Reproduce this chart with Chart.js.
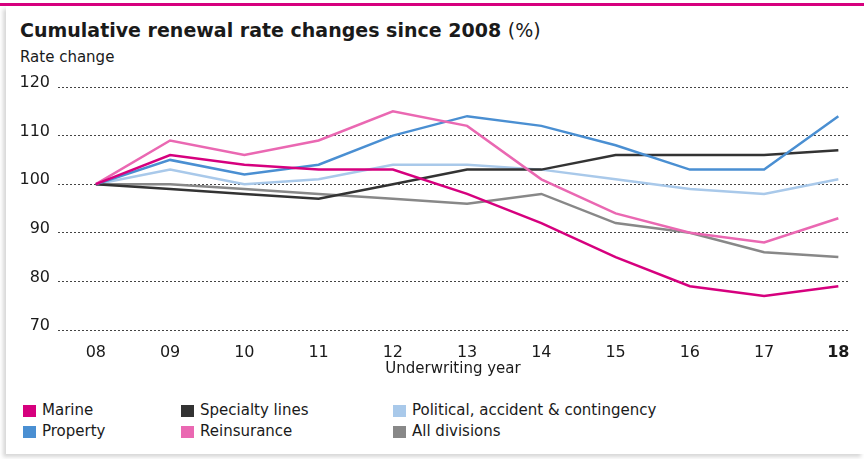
<!DOCTYPE html>
<html>
<head>
<meta charset="utf-8">
<script src="https://cdn.jsdelivr.net/npm/chart.js@4/dist/chart.umd.min.js"></script>
<style>
  html, body { margin: 0; padding: 0; background: #fff; }
  body { width: 864px; height: 459px; position: relative; overflow: hidden; font-family: "DejaVu Sans", sans-serif; color: #1a1a1a; }
  #topbar { position: absolute; left: 0; top: 3px; width: 864px; height: 3px; background: #d6007e; }
  #card { position: absolute; left: 6px; top: 6px; width: 858px; height: 448px; background: #fff; box-shadow: -3px 3px 4px rgba(0,0,0,0.16); }
  #title { position: absolute; left: 20px; top: 21px; font-size: 19px; line-height: 1; font-weight: bold; white-space: nowrap; }
  #title span { font-weight: normal; }
  #unit { position: absolute; left: 20px; top: 50px; font-size: 15px; line-height: 1; }
  #wrap { position: absolute; left: 0; top: 62px; width: 864px; height: 330px; }
  #legend { position: absolute; left: 0; top: 403px; font-size: 15px; line-height: 1; }
  .item { position: absolute; white-space: nowrap; display: flex; align-items: center; }
  .sw { width: 13px; height: 12px; margin-right: 6px; }
</style>
</head>
<body>
<div id="card"></div>
<div id="topbar"></div>
<div id="title">Cumulative renewal rate changes since 2008 <span>(%)</span></div>
<div id="unit">Rate change</div>
<div id="wrap"><canvas id="chart"></canvas></div>
<div id="legend"></div>
<script>
const years = [8, 9, 10, 11, 12, 13, 14, 15, 16, 17, 18];
const yearLabels = ['08', '09', '10', '11', '12', '13', '14', '15', '16', '17', '18'];
const yTicks = [70, 80, 90, 100, 110, 120];

const marine      = [100, 106, 104, 103, 103, 98, 92, 85, 79, 77, 79];
const specialty   = [100, 99, 98, 97, 100, 103, 103, 106, 106, 106, 107];
const political   = [100, 103, 100, 101, 104, 104, 103, 101, 99, 98, 101];
const property    = [100, 105, 102, 104, 110, 114, 112, 108, 103, 103, 114];
const reinsurance = [100, 109, 106, 109, 115, 112, 101, 94, 90, 88, 93];
const allDivs     = [100, 100, 99, 98, 97, 96, 98, 92, 90, 86, 85];

const series = [
  { label: 'Marine', data: marine, color: '#d6007e' },
  { label: 'Specialty lines', data: specialty, color: '#333333' },
  { label: 'Political, accident & contingency', data: political, color: '#a9c9ea' },
  { label: 'Property', data: property, color: '#4a8fd2' },
  { label: 'Reinsurance', data: reinsurance, color: '#ea68b2' },
  { label: 'All divisions', data: allDivs, color: '#888888' }
];

// lightest drawn first, marine ends up on top
const drawOrder = ['Political, accident & contingency', 'All divisions', 'Specialty lines', 'Property', 'Reinsurance', 'Marine'];

const datasets = series.map(s => ({
  label: s.label,
  data: s.data.map((v, i) => ({ x: years[i], y: v })),
  borderColor: s.color,
  backgroundColor: s.color,
  borderWidth: 2.5,
  pointRadius: 0,
  tension: 0,
  order: drawOrder.length - drawOrder.indexOf(s.label)
}));

const tickFont = { family: '"DejaVu Sans", sans-serif', size: 16 };

new Chart(document.getElementById('chart'), {
  type: 'line',
  data: { datasets },
  options: {
    responsive: true,
    maintainAspectRatio: false,
    animation: false,
    layout: { padding: { top: 25, right: 16, left: 0, bottom: 0 } },
    plugins: { legend: { display: false }, tooltip: { enabled: false } },
    scales: {
      x: {
        type: 'linear',
        min: 7.49,
        max: 18.13,
        afterBuildTicks: scale => { scale.ticks = years.map(v => ({ value: v })); },
        afterFit: scale => { scale.height = 62; },
        grid: { display: false },
        border: { display: false },
        ticks: {
          padding: 5,
          color: '#1a1a1a',
          font: ctx => (ctx.tick && ctx.tick.value === 18) ? Object.assign({}, tickFont, { weight: 'bold' }) : tickFont,
          callback: v => yearLabels[years.indexOf(v)]
        },
        title: {
          display: true,
          text: 'Underwriting year',
          color: '#1a1a1a',
          font: { family: '"DejaVu Sans", sans-serif', size: 15 },
          padding: { top: 0, bottom: 14 }
        }
      },
      y: {
        min: 70,
        max: 120,
        afterBuildTicks: scale => { scale.ticks = yTicks.map(v => ({ value: v })); },
        afterFit: scale => { scale.width = 58; },
        border: { display: false, dash: [2, 2] },
        grid: { color: '#444', lineWidth: 1, drawTicks: false },
        ticks: { padding: 8, labelOffset: -4, color: '#1a1a1a', font: tickFont }
      }
    }
  }
});

// legend: three fixed columns, two rows
const legend = document.getElementById('legend');
const cols = [23, 181, 393];
series.forEach((s, i) => {
  const el = document.createElement('div');
  el.className = 'item';
  el.style.left = cols[i % 3] + 'px';
  el.style.top = (Math.floor(i / 3) * 21) + 'px';
  el.innerHTML = '<div class="sw" style="background:' + s.color + '"></div>' + s.label.replace('&', '&amp;');
  legend.appendChild(el);
});
</script>
</body>
</html>
